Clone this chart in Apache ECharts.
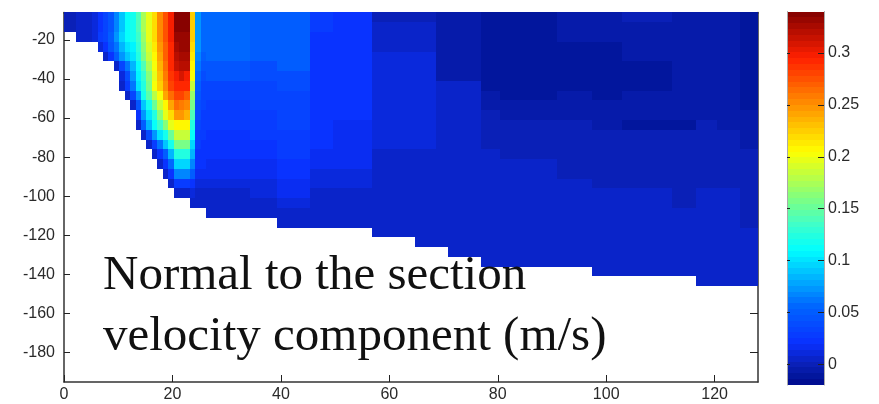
<!DOCTYPE html>
<html><head><meta charset="utf-8">
<style>html,body{margin:0;padding:0;background:#fff}#c{width:879px;height:404px}</style>
<script src="https://cdn.jsdelivr.net/npm/echarts@6/dist/echarts.min.js"></script>
</head><body><div id="c"></div>
<script>
const _ = null;
const xTicks = [0,20,40,60,80,100,120];
const yTicks = [-20,-40,-60,-80,-100,-120,-140,-160,-180];
const barTicks = [0,0.05,0.1,0.15,0.2,0.25,0.3];
const captionLines = ['Normal to the section','velocity component (m/s)'];
// depth of the top of each 5 m row
const rowTops = [-6,-11,-16,-21,-26,-31,-36,-41,-46,-51,-56,-61,-66,-71,-76,-81,-86,-91,-96,-101,-106,-111,-116,-121,-126,-131,-136,-141,-146];
// narrow columns near the slope (1 unit wide, x = k + 0.2), one row per line
const fineEdges = [0,1.2,2.2,3.2,4.2,5.2,6.2,7.2,8.2,9.2,10.2,11.2,12.2,13.2,14.2,15.2,16.2,17.2,18.2,19.2,20.2,21.2,22.2,23.2,24.2,25.2,26.2];
const fineRows = [
[-.003,.002,.004,.005,.005,.01,.025,.035,.045,.065,.09,.11,.115,.14,.175,.195,.22,.25,.275,.30,.335,.335,.335,.225,.07,.055],
[-.003,.002,.004,.005,.005,.01,.025,.035,.045,.065,.09,.11,.115,.14,.175,.195,.22,.25,.275,.30,.335,.335,.335,.225,.07,.055],
[_,_,.005,.005,.005,.012,.028,.035,.05,.07,.095,.11,.115,.135,.17,.195,.22,.25,.275,.30,.33,.33,.33,.225,.07,.055],
[_,_,_,_,_,_,.012,.025,.045,.06,.085,.1,.105,.13,.165,.19,.215,.245,.27,.295,.325,.33,.33,.22,.07,.055],
[_,_,_,_,_,_,_,.008,.02,.05,.07,.09,.1,.125,.155,.185,.21,.24,.27,.295,.32,.325,.325,.215,.065,.05],
[_,_,_,_,_,_,_,_,_,.005,.035,.06,.085,.11,.14,.175,.205,.235,.265,.29,.315,.32,.32,.21,.06,.045],
[_,_,_,_,_,_,_,_,_,_,.01,.04,.07,.105,.13,.165,.195,.23,.26,.285,.30,.31,.30,.2,.055,.04],
[_,_,_,_,_,_,_,_,_,_,.005,.03,.06,.10,.125,.16,.2,.225,.25,.28,.295,.295,.29,.185,.05,.035],
[_,_,_,_,_,_,_,_,_,_,_,.005,.035,.075,.115,.145,.18,.205,.24,.265,.28,.28,.27,.17,.045,.033],
[_,_,_,_,_,_,_,_,_,_,_,_,.005,.045,.09,.12,.15,.185,.21,.24,.265,.26,.25,.155,.04,.032],
[_,_,_,_,_,_,_,_,_,_,_,_,_,.025,.07,.1,.125,.165,.195,.22,.245,.245,.235,.14,.038,.03],
[_,_,_,_,_,_,_,_,_,_,_,_,_,.005,.05,.085,.11,.135,.165,.195,.21,.21,.21,.125,.035,.028],
[_,_,_,_,_,_,_,_,_,_,_,_,_,_,.005,.04,.07,.10,.12,.15,.185,.185,.185,.11,.03,.026],
[_,_,_,_,_,_,_,_,_,_,_,_,_,_,_,.005,.03,.06,.09,.12,.155,.155,.155,.095,.027,.024],
[_,_,_,_,_,_,_,_,_,_,_,_,_,_,_,_,.005,.025,.05,.085,.125,.125,.125,.085,.025,.022],
[_,_,_,_,_,_,_,_,_,_,_,_,_,_,_,_,_,.005,.025,.055,.095,.095,.095,.065,.022,.02],
[_,_,_,_,_,_,_,_,_,_,_,_,_,_,_,_,_,_,.005,.02,.065,.065,.065,.05,.015,.015],
[_,_,_,_,_,_,_,_,_,_,_,_,_,_,_,_,_,_,_,.005,.03,.03,.03,.025,.01,.01],
[_,_,_,_,_,_,_,_,_,_,_,_,_,_,_,_,_,_,_,_,.005,.005,.005,.012,.005,.005],
[_,_,_,_,_,_,_,_,_,_,_,_,_,_,_,_,_,_,_,_,_,_,_,.005,.004,.004]
];
// wider blocks offshore, one list per column, top to bottom
const coarseEdges = [26.2,34.3,39.3,45.4,49.6,56.8,64.7,68.6,70.8,77,80.4,91,97.3,103,112.2,116.6,120.5,124.6,128];
const coarseColumns = [
[.058,.058,.058,.058,.058,.046,.042,.036,.034,.03,.028,.026,.024,.022,.02,.016,.014,.01,.008,.006,.004],
[.05,.05,.05,.05,.05,.04,.038,.036,.033,.032,.03,.028,.026,.024,.022,.018,.016,.012,.01,.008,.004],
[.048,.048,.048,.053,.053,.053,.04,.04,.036,.036,.034,.034,.03,.028,.026,.023,.022,.018,.014,.012,.006,.004],
[.026,.026,.025,.025,.025,.025,.025,.025,.025,.025,.022,.022,.022,.02,.018,.015,.013,.01,.008,.006,.005,.004],
[.02,.02,.024,.024,.024,.024,.024,.024,.024,.02,.02,.018,.018,.018,.016,.014,.012,.01,.008,.006,.005,.005],
[.0,.004,.004,.004,.01,.01,.01,.01,.01,.012,.012,.01,.01,.01,.008,.008,.008,.008,.008,.006,.006,.006,.006],
[.0,.004,.004,.004,.01,.01,.01,.01,.01,.012,.012,.01,.01,.01,.008,.008,.008,.008,.008,.006,.006,.006,.006,.006],
[-.008,-.008,-.004,-.004,-.004,-.004,-.004,.004,.004,.008,.008,.008,.008,.008,.008,.007,.007,.007,.006,.006,.006,.006,.006,.006],
[-.008,-.008,-.004,-.004,-.004,-.004,-.004,.004,.004,.008,.008,.008,.008,.008,.008,.007,.007,.007,.006,.006,.006,.006,.006,.006,.006],
[-.01,-.01,-.01,-.01,-.01,-.01,-.01,-.01,-.006,-.006,.002,.002,.002,.002,.006,.006,.006,.006,.006,.006,.006,.006,.006,.006,.006,.006],
[-.012,-.012,-.014,-.014,-.014,-.014,-.014,-.014,-.01,-.006,-.006,0,0,0,0,.005,.005,.007,.007,.007,.007,.007,.007,.007,.007,.007],
[-.008,-.008,-.008,-.012,-.012,-.012,-.012,-.012,-.008,-.008,-.008,-.002,-.002,-.002,-.002,-.002,-.002,.006,.006,.006,.006,.006,.006,.006,.006,.006],
[-.006,-.006,-.006,-.012,-.012,-.012,-.012,-.012,-.012,-.008,-.008,-.004,-.001,-.001,-.001,-.001,-.001,-.001,.007,.007,.007,.007,.007,.007,.007,.007,.007],
[0,-.006,-.006,-.006,-.006,-.012,-.012,-.012,-.008,-.008,-.008,-.009,-.001,-.001,-.001,-.001,-.001,-.001,.007,.007,.007,.007,.007,.007,.007,.007,.007],
[-.006,-.006,-.006,-.006,-.006,-.008,-.008,-.008,-.008,-.008,-.008,-.009,-.001,-.001,-.001,-.001,-.001,-.001,-.003,-.003,.005,.005,.005,.005,.005,.005,.005],
[-.006,-.006,-.006,-.006,-.006,-.006,-.006,-.006,-.007,-.007,-.007,-.003,-.001,-.001,-.001,-.001,-.001,-.001,.006,.006,.006,.006,.006,.006,.006,.006,.006,.006],
[-.006,-.006,-.006,-.006,-.006,-.006,-.006,-.006,-.006,-.006,-.006,-.007,-.001,-.001,-.001,-.001,-.001,-.001,.004,.004,.004,.004,.004,.004,.004,.004,.004,.004],
[-.012,-.012,-.012,-.012,-.012,-.012,-.012,-.012,-.012,-.012,-.006,-.006,-.006,-.006,-.001,-.001,-.001,-.001,-.002,-.002,-.002,-.002,.005,.005,.005,.005,.005,.005]
];
const colorStops = [
[-.02,'#000a8c'],[-.012,'#02169c'],[0,'#0a20b8'],[.01,'#0a28d8'],[.02,'#0a30ff'],[.055,'#0064ff'],
[.11,'#00ffff'],[.135,'#40ffc8'],[.16,'#80ff80'],[.205,'#ffff00'],[.25,'#ff9000'],[.295,'#ff2000'],[.34,'#800000']
];
const barMin = -0.02, barMax = 0.34, barSteps = 64;

function hexRgb(h){return [1,3,5].map(i=>parseInt(h.substr(i,2),16));}
function colorOf(v){
  const q = Math.min(barSteps-1, Math.max(0, Math.floor((v-barMin)/(barMax-barMin)*barSteps)));
  const w = barMin+(q+.5)*(barMax-barMin)/barSteps;
  for(let i=1;i<colorStops.length;i++){
    if(w<=colorStops[i][0]){
      const a=colorStops[i-1],b=colorStops[i],f=(w-a[0])/(b[0]-a[0]);
      const A=hexRgb(a[1]),B=hexRgb(b[1]);
      return 'rgb('+A.map((c,k)=>Math.round(c+(B[k]-c)*f)).join(',')+')';
    }
  }
  return colorStops[colorStops.length-1][1];
}
const cells = [];
fineRows.forEach((row,r)=>row.forEach((v,c)=>{
  if(v!==null) cells.push([fineEdges[c],fineEdges[c+1],rowTops[r],rowTops[r+1],v]);
}));
coarseColumns.forEach((col,c)=>col.forEach((v,r)=>{
  cells.push([coarseEdges[c],coarseEdges[c+1],rowTops[r],rowTops[r+1],v]);
}));
const barCells = [];
for(let i=0;i<barSteps;i++){
  const a=barMin+i*(barMax-barMin)/barSteps,b=barMin+(i+1)*(barMax-barMin)/barSteps;
  barCells.push([0,1,a,b,(a+b)/2]);
}
function renderCell(params,api){
  const p0=api.coord([api.value(0),api.value(2)]);
  const p1=api.coord([api.value(1),api.value(3)]);
  const x0=Math.round(p0[0]),x1=Math.round(p1[0]),y0=Math.round(p0[1]),y1=Math.round(p1[1]);
  return {type:'rect',shape:{x:Math.min(x0,x1),y:Math.min(y0,y1),width:Math.abs(x1-x0),height:Math.abs(y1-y0)},
    style:{fill:colorOf(api.value(4))}};
}
const fontFamily='"Liberation Sans",Arial,sans-serif', ink='#2a2a2a';
const label={color:ink,fontFamily,fontSize:16,margin:9};
const line={show:true,onZero:false,lineStyle:{color:'#333',width:1.5}};
const tick=(vals,len)=>({show:true,inside:true,length:len,customValues:vals,lineStyle:{color:'#222',width:1}});
const off={show:false};
const barLine={show:true,onZero:false,lineStyle:{color:'#aaa',width:1}};

const chart=echarts.init(document.getElementById('c'),null,{renderer:'canvas'});
chart.setOption({
  animation:false,
  backgroundColor:'#fff',
  grid:[
    {left:64,top:12.5,width:694,height:369.5},
    {left:787,top:11.5,width:37,height:373.5}
  ],
  xAxis:[
    {gridIndex:0,type:'value',min:0,max:128,position:'bottom',axisLine:line,splitLine:off,
     axisTick:tick(xTicks,7),axisLabel:{...label,margin:5,customValues:xTicks}},
    {gridIndex:0,type:'value',min:0,max:128,position:'top',axisLine:line,splitLine:off,
     axisTick:tick(xTicks,7),axisLabel:off},
    {gridIndex:1,type:'value',min:0,max:1,axisLine:off,axisTick:off,axisLabel:off,splitLine:off}
  ],
  yAxis:[
    {gridIndex:0,type:'value',min:-195,max:-6,position:'left',axisLine:line,splitLine:off,
     axisTick:tick(yTicks,6),axisLabel:{...label,customValues:yTicks}},
    {gridIndex:0,type:'value',min:-195,max:-6,position:'right',axisLine:line,splitLine:off,
     axisTick:tick(yTicks,8),axisLabel:off},
    {gridIndex:1,type:'value',z:5,min:barMin,max:barMax,position:'right',axisLine:barLine,splitLine:off,
     axisTick:tick(barTicks,6),axisLabel:{...label,margin:4,customValues:barTicks,formatter:v=>String(+v.toFixed(2))}},
    {gridIndex:1,type:'value',z:5,min:barMin,max:barMax,position:'left',axisLine:barLine,splitLine:off,
     axisTick:tick(barTicks,3),axisLabel:off}
  ],
  series:[
    {type:'custom',name:'velocity',xAxisIndex:0,yAxisIndex:0,data:cells,encode:{x:[0,1],y:[2,3]},renderItem:renderCell,silent:true,z:3},
    {type:'custom',name:'scale',xAxisIndex:2,yAxisIndex:2,data:barCells,encode:{x:[0,1],y:[2,3]},renderItem:renderCell,silent:true,z:1}
  ],
  graphic:[
    {type:'text',left:103,top:252,z:10,silent:true,style:{text:captionLines[0],font:'49px "Liberation Serif",serif',fill:'#111'}},
    {type:'text',left:103,top:313,z:10,silent:true,style:{text:captionLines[1],font:'49px "Liberation Serif",serif',fill:'#111'}}
  ]
});
</script></body></html>
